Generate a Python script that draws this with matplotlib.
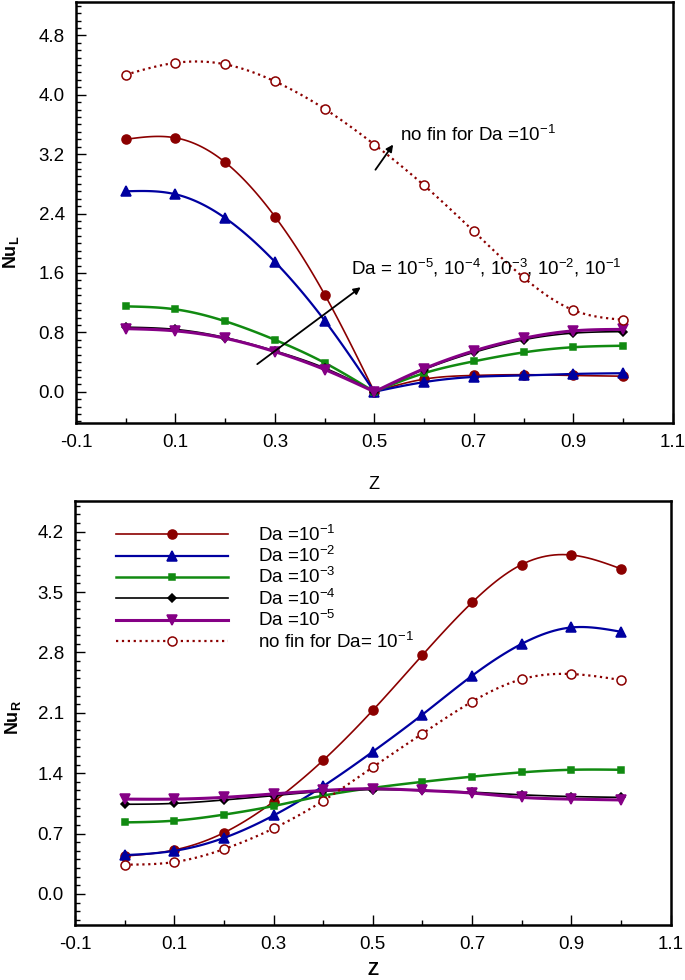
import numpy as np
import matplotlib
matplotlib.use("Agg")
import matplotlib.pyplot as plt
from matplotlib.ticker import MultipleLocator, FormatStrFormatter

plt.rcParams['font.family'] = ['Liberation Sans', 'DejaVu Sans']
plt.rcParams['mathtext.fontset'] = 'custom'
plt.rcParams['mathtext.rm'] = 'Liberation Sans'
plt.rcParams['mathtext.bf'] = 'Liberation Sans:bold'

z = [0.0, 0.1, 0.2, 0.3, 0.4, 0.5, 0.6, 0.7, 0.8, 0.9, 1.0]

# left Nusselt number (top panel)
nul_da1 = [3.40, 3.42, 3.09, 2.36, 1.31, 0.0, 0.17, 0.22, 0.23, 0.22, 0.21]
nul_da2 = [2.70, 2.66, 2.34, 1.75, 0.96, 0.0, 0.13, 0.20, 0.22, 0.24, 0.25]
nul_da3 = [1.15, 1.11, 0.95, 0.70, 0.39, 0.0, 0.25, 0.41, 0.53, 0.60, 0.62]
nul_da4 = [0.87, 0.84, 0.73, 0.55, 0.32, 0.0, 0.30, 0.53, 0.70, 0.79, 0.81]
nul_da5 = [0.85, 0.82, 0.72, 0.54, 0.30, 0.0, 0.31, 0.55, 0.72, 0.82, 0.84]
nul_nofin = [4.27, 4.43, 4.41, 4.18, 3.81, 3.33, 2.78, 2.16, 1.54, 1.10, 0.97]

# right Nusselt number (bottom panel)
nur_da1 = [0.44, 0.51, 0.71, 1.07, 1.55, 2.13, 2.77, 3.38, 3.82, 3.93, 3.77]
nur_da2 = [0.45, 0.50, 0.65, 0.91, 1.25, 1.65, 2.08, 2.53, 2.90, 3.09, 3.04]
nur_da3 = [0.83, 0.85, 0.92, 1.02, 1.14, 1.23, 1.30, 1.36, 1.41, 1.44, 1.44]
nur_da4 = [1.04, 1.05, 1.09, 1.14, 1.19, 1.21, 1.20, 1.18, 1.15, 1.13, 1.12]
nur_da5 = [1.10, 1.10, 1.12, 1.16, 1.20, 1.22, 1.20, 1.17, 1.12, 1.10, 1.09]
nur_nofin = [0.34, 0.37, 0.52, 0.76, 1.08, 1.47, 1.86, 2.23, 2.49, 2.55, 2.48]

labels = ['Da =10$^{-1}$', 'Da =10$^{-2}$', 'Da =10$^{-3}$',
          'Da =10$^{-4}$', 'Da =10$^{-5}$', 'no fin for Da= 10$^{-1}$']

# colour, marker, marker size, linewidth, linestyle, filled
styles = [('#8b0000', 'o', 6.5, 1.2, '-', True),
          ('#0000a0', '^', 6.5, 1.6, '-', True),
          ('#118a11', 's', 5.0, 1.8, '-', True),
          ('black', 'D', 4.5, 1.2, '-', True),
          ('#850085', 'v', 6.5, 2.2, '-', True),
          ('#8b0000', 'o', 6.5, 1.6, ':', False)]


def spline(x, y, n=120):
    # natural cubic spline, just for drawing smooth curves through the points
    x = np.asarray(x, float)
    y = np.asarray(y, float)
    k = len(x)
    h = np.diff(x)
    A = np.zeros((k, k))
    r = np.zeros(k)
    A[0, 0] = A[-1, -1] = 1
    for i in range(1, k - 1):
        A[i, i - 1] = h[i - 1]
        A[i, i] = 2 * (h[i - 1] + h[i])
        A[i, i + 1] = h[i]
        r[i] = 6 * ((y[i + 1] - y[i]) / h[i] - (y[i] - y[i - 1]) / h[i - 1])
    m = np.linalg.solve(A, r)
    xs = np.linspace(x[0], x[-1], n)
    j = np.clip(np.searchsorted(x, xs) - 1, 0, k - 2)
    t = xs - x[j]
    hj = h[j]
    a = (m[j + 1] - m[j]) / (6 * hj)
    b = m[j] / 2
    c = (y[j + 1] - y[j]) / hj - hj * (2 * m[j] + m[j + 1]) / 6
    return xs, y[j] + c * t + b * t ** 2 + a * t ** 3


def draw(ax, series, split=None):
    for vals, (col, mk, ms, lw, ls, filled), lab in zip(series, styles, labels):
        if split is not None and ls == '-':
            parts = [(z[:split + 1], vals[:split + 1]), (z[split:], vals[split:])]
        else:
            parts = [(z, vals)]
        for px, py in parts:
            sx, sy = spline(px, py)
            ax.plot(sx, sy, color=col, lw=lw, ls=ls)
        mfc = col if filled else 'white'
        ax.plot(z, vals, ls='none', marker=mk, ms=ms, mfc=mfc, mec=col, mew=1.1)
        # legend proxy
        ax.plot([], [], color=col, lw=lw, ls=ls, marker=mk, ms=ms, mfc=mfc,
                mec=col, mew=1.1, label=lab)


def style(ax, ymin, ymax, major, ytext):
    ax.set_xlim(-0.1, 1.1)
    ax.set_ylim(ymin, ymax)
    ax.set_xticks([-0.1, 0.1, 0.3, 0.5, 0.7, 0.9, 1.1])
    ax.xaxis.set_minor_locator(MultipleLocator(0.1))
    ax.xaxis.set_major_formatter(FormatStrFormatter('%.1f'))
    ax.yaxis.set_major_locator(MultipleLocator(major))
    ax.yaxis.set_minor_locator(MultipleLocator(0.1))
    ax.yaxis.set_major_formatter(FormatStrFormatter('%.1f'))
    ax.tick_params(which='both', direction='in', top=False, right=False,
                   labelsize=13.5, width=1)
    ax.tick_params(which='major', length=7, pad=8)
    ax.tick_params(which='minor', length=3.5)
    for sp in ax.spines.values():
        sp.set_linewidth(1.8)
    ax.set_ylabel(ytext, fontsize=13)


fig = plt.figure(figsize=(6.85, 9.8), dpi=100)
ax1 = fig.add_axes([0.111, 0.5684, 0.871, 0.4296])
ax2 = fig.add_axes([0.1095, 0.0561, 0.8695, 0.433])

draw(ax1, [nul_da1, nul_da2, nul_da3, nul_da4, nul_da5, nul_nofin], split=5)
style(ax1, -0.42, 5.25, 0.8, r'$\mathbf{Nu_L}$')
ax1.yaxis.set_label_coords(-0.092, 0.406)
ax1.set_xlabel('Z', fontsize=13)
ax1.xaxis.set_label_coords(0.5, -0.125)

ax1.annotate('', xy=(0.541, 3.36), xytext=(0.499, 2.96),
             arrowprops=dict(arrowstyle='-|>', color='black', lw=1.3))
ax1.text(0.552, 3.47, 'no fin for Da =10$^{-1}$', fontsize=13.5, va='center')
ax1.annotate('', xy=(0.477, 1.43), xytext=(0.26, 0.35),
             arrowprops=dict(arrowstyle='-|>', color='black', lw=1.3))
ax1.text(0.453, 1.67, 'Da = 10$^{-5}$, 10$^{-4}$, 10$^{-3}$, 10$^{-2}$, 10$^{-1}$',
         fontsize=13.5, va='center')

draw(ax2, [nur_da1, nur_da2, nur_da3, nur_da4, nur_da5, nur_nofin])
style(ax2, -0.36, 4.56, 0.7, r'$\mathbf{Nu_R}$')
ax2.yaxis.set_label_coords(-0.088, 0.49)
ax2.set_xlabel('Z', fontsize=13, fontweight='bold')
ax2.xaxis.set_label_coords(0.5, -0.088)
ax2.legend(loc='upper left', bbox_to_anchor=(0.04, 0.985), frameon=False,
           fontsize=13.5, handlelength=6.0, handletextpad=1.6, labelspacing=0.03)

fig.savefig('out.png', dpi=100)
